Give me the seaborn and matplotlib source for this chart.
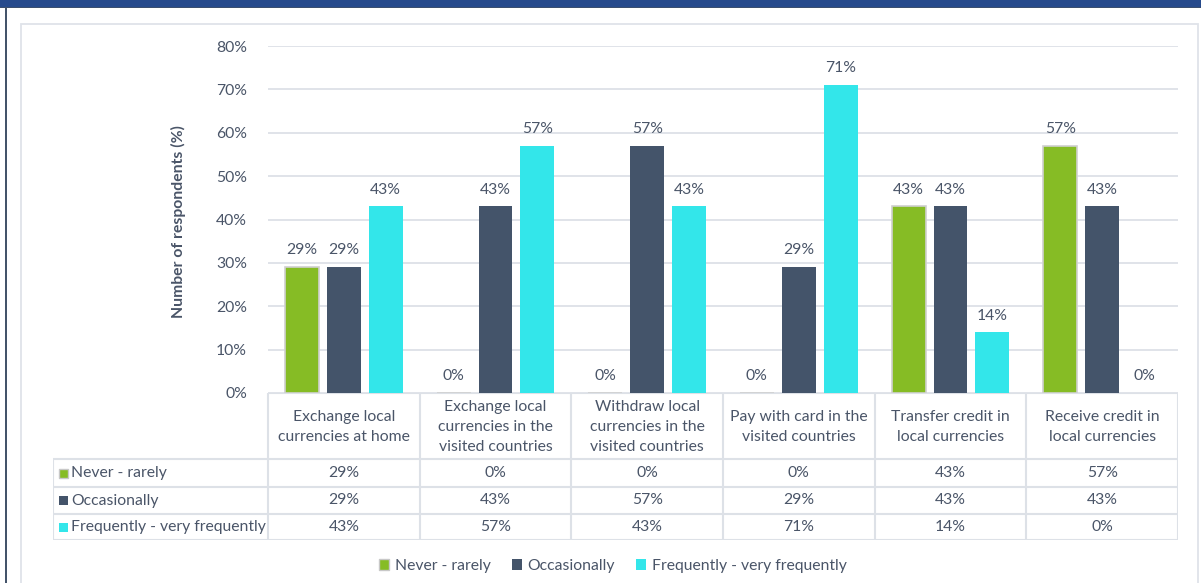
import matplotlib
matplotlib.use("Agg")
import matplotlib.pyplot as plt
import numpy as np
import pandas as pd
import seaborn as sns
from matplotlib.patches import Rectangle
from matplotlib.lines import Line2D

# ---- data -------------------------------------------------------------
categories = [
    "Exchange local\ncurrencies at home",
    "Exchange local\ncurrencies in the\nvisited countries",
    "Withdraw local\ncurrencies in the\nvisited countries",
    "Pay with card in the\nvisited countries",
    "Transfer credit in\nlocal currencies",
    "Receive credit in\nlocal currencies",
]
series = ["Never - rarely", "Occasionally", "Frequently - very frequently"]
never_rarely = [0.29, 0.00, 0.00, 0.00, 0.43, 0.57]
occasionally = [0.29, 0.43, 0.57, 0.29, 0.43, 0.43]
frequently = [0.43, 0.57, 0.43, 0.71, 0.14, 0.00]
y_ticks = [0.0, 0.1, 0.2, 0.3, 0.4, 0.5, 0.6, 0.7, 0.8]
y_label = "Number of respondents (%)"

colors = ["#86bc25", "#44546a", "#33e6ea"]
text_color = "#4a5568"
grid_color = "#dde1e7"

values = [never_rarely, occasionally, frequently]
df = pd.DataFrame({
    "category": [c for _ in series for c in categories],
    "series": [s for s in series for _ in categories],
    "value": [v for vals in values for v in vals],
})

def pct(v):
    return f"{round(v * 100)}%"

# ---- figure -----------------------------------------------------------
sns.set_theme(style="white")
plt.rcParams["font.family"] = ["Lato", "DejaVu Sans"]
FS = 11.3

W, H = 1201, 583
fig = plt.figure(figsize=(W / 100, H / 100), dpi=100)
fig.patch.set_facecolor("white")

def fx(px):
    return px / W

def fy(py):
    return 1 - py / H

# page frame: dark band on top, slate rule on the left, light inner panel
fig.patches.append(Rectangle((0, fy(7)), 1, fy(0) - fy(7), transform=fig.transFigure,
                             facecolor="#264a8c", edgecolor="none", zorder=0))
fig.patches.append(Rectangle((0, fy(8)), 1, fy(7) - fy(8), transform=fig.transFigure,
                             facecolor="#3b4f6e", edgecolor="none", zorder=0))
fig.patches.append(Rectangle((fx(5), 0), fx(7) - fx(5), fy(7), transform=fig.transFigure,
                             facecolor="#44546a", edgecolor="none", zorder=0))
fig.patches.append(Rectangle((fx(21), fy(600)), fx(1198) - fx(21), fy(24) - fy(600),
                             transform=fig.transFigure, facecolor="none",
                             edgecolor="#dfe3e9", linewidth=1.3, zorder=0))

# ---- bar chart --------------------------------------------------------
left_px, right_px, top_px, base_px = 268, 1178, 46, 393
ax = fig.add_axes([fx(left_px), fy(base_px), fx(right_px) - fx(left_px), fy(top_px) - fy(base_px)])
sns.barplot(data=df, x="category", y="value", hue="series", order=categories,
            hue_order=series, palette=colors, saturation=1, width=0.83, gap=0.19,
            ax=ax, legend=False, errorbar=None, zorder=3)

for i, cont in enumerate(ax.containers):
    for p in cont:
        if i == 0:
            p.set_edgecolor("#d0d0d0")
            p.set_linewidth(1.2)
        else:
            p.set_edgecolor("none")
    ax.bar_label(cont, labels=[pct(v) for v in values[i]], padding=7,
                 color=text_color, fontsize=FS)

ax.set_xlim(-0.5, len(categories) - 0.5)
ax.set_ylim(y_ticks[0], y_ticks[-1])
ax.set_yticks(y_ticks)
ax.set_yticklabels([pct(t) for t in y_ticks], color=text_color, fontsize=FS)
ax.tick_params(axis="y", length=0, pad=15)
ax.set_xticks([])
ax.set_xlabel("")
ax.set_ylabel("")
for s in ax.spines.values():
    s.set_visible(False)
ax.yaxis.grid(True, color=grid_color, linewidth=1.3, zorder=0)
ax.set_axisbelow(True)

fig.text(fx(178), fy(222), y_label, rotation=90, ha="center", va="center",
         fontsize=FS, fontweight="bold", color=text_color)

# ---- data table -------------------------------------------------------
tab_left, tab_bottom = 53, 540
row_edges = [393, 459, 487, 514, 540]  # header, three series rows
unit = (right_px - left_px) / len(categories)
label_units = (left_px - tab_left) / unit
tax = fig.add_axes([fx(tab_left), fy(tab_bottom), fx(right_px) - fx(tab_left),
                    fy(base_px) - fy(tab_bottom)])
tax.set_xlim(-0.5 - label_units, len(categories) - 0.5)
tax.set_ylim(tab_bottom, base_px)
tax.axis("off")

lk = dict(color=grid_color, linewidth=1.5, solid_capstyle="butt")
x0 = -0.5 - label_units
xe = len(categories) - 0.5
tax.add_line(Line2D([-0.5, xe], [row_edges[0]] * 2, **lk))
for yv in row_edges[1:]:
    tax.add_line(Line2D([x0, xe], [yv, yv], **lk))
tax.add_line(Line2D([x0, x0], [row_edges[1], row_edges[-1]], **lk))
for k in range(len(categories) + 1):
    xv = -0.5 + k
    tax.add_line(Line2D([xv, xv], [row_edges[0], row_edges[-1]], **lk))

hdr_mid = (row_edges[0] + row_edges[1]) / 2 + 1
for k, cat in enumerate(categories):
    tax.text(k, hdr_mid, cat, ha="center", va="center", fontsize=FS,
             color=text_color, linespacing=1.55)

sq = 9 / unit  # marker square width in table units
for r, name in enumerate(series):
    yc = (row_edges[r + 1] + row_edges[r + 2]) / 2
    mx = x0 + 6 / unit
    tax.add_patch(Rectangle((mx, yc - 4.5), sq, 9, facecolor=colors[r],
                            edgecolor="#c8c8c8" if r == 0 else "none", linewidth=1))
    tax.text(x0 + 18 / unit, yc, name, ha="left", va="center", fontsize=FS,
             color=text_color)
    for k, v in enumerate(values[r]):
        tax.text(k, yc, pct(v), ha="center", va="center", fontsize=FS,
                 color=text_color)

# ---- legend -----------------------------------------------------------
handles = [Rectangle((0, 0), 1, 1, facecolor=c,
                     edgecolor="#c8c8c8" if i == 0 else "none")
           for i, c in enumerate(colors)]
fig.legend(handles, series, loc="center", bbox_to_anchor=(fx(613), fy(566)),
           ncol=3, frameon=False, fontsize=FS, handlelength=0.65, handleheight=0.65,
           handletextpad=0.35, columnspacing=1.35, labelcolor=text_color)

fig.savefig("out.png", dpi=100, facecolor="white")
